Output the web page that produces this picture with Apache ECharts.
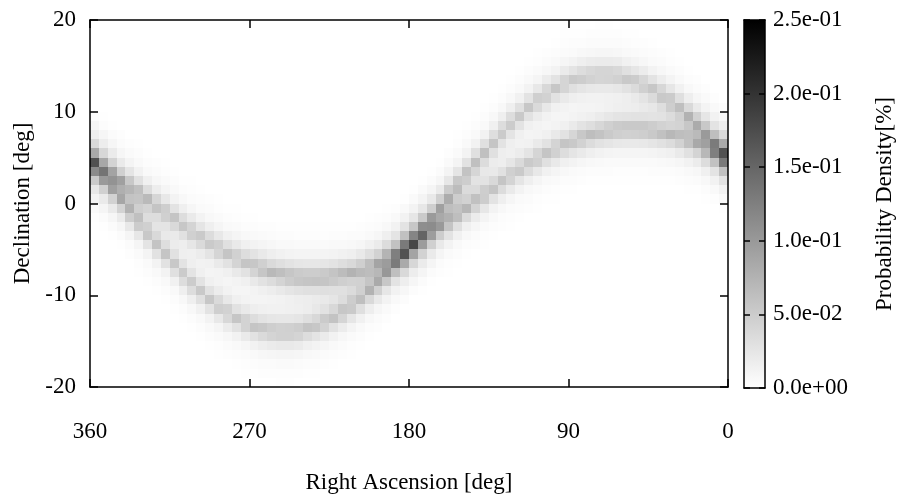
<!DOCTYPE html>
<html><head><meta charset="utf-8">
<script src="https://cdn.jsdelivr.net/npm/echarts@6/dist/echarts.min.js"></script>
<style>html,body{margin:0;padding:0;background:#fff}#c{width:906px;height:499px}</style>
</head><body><div id="c"></div>
<script>
// ---- data ----
const raTickLabels = [360, 270, 180, 90, 0];
const decTickLabels = [-20, -10, 0, 10, 20];
const densityTicks = [0, 0.05, 0.10, 0.15, 0.20, 0.25];
const raBinWidth = 5;     // deg per column
const decBinWidth = 1;    // deg per row
const decRange = [-20, 20];

// ridge (centre declination) of each band per 5-deg RA column, RA 0..360
const bandARidge = [5.4, 6.5, 7.6, 8.6, 9.5, 10.4, 11.1, 11.8, 12.4, 12.9, 13.3, 13.6, 13.9, 14.0, 14.0, 13.9, 13.7, 13.4,
  13.0, 12.5, 11.9, 11.2, 10.5, 9.6, 8.7, 7.7, 6.6, 5.5, 4.4, 3.2, 1.9, 0.7, -0.6, -1.8, -3.0, -4.2,
  -5.4, -6.5, -7.6, -8.6, -9.5, -10.4, -11.1, -11.8, -12.4, -12.9, -13.3, -13.6, -13.9, -14.0, -14.0, -13.9, -13.7, -13.4,
  -13.0, -12.5, -11.9, -11.2, -10.5, -9.6, -8.7, -7.7, -6.6, -5.5, -4.4, -3.2, -1.9, -0.7, 0.6, 1.8, 3.0, 4.2];
const bandBRidge = [5.0, 5.55, 6.05, 6.5, 6.9, 7.25, 7.5, 7.7, 7.9, 8.05, 8.1, 8.1, 8.05, 7.9, 7.7, 7.45, 7.15, 6.8,
  6.4, 5.95, 5.45, 4.9, 4.3, 3.7, 3.05, 2.35, 1.65, 0.95, 0.25, -0.45, -1.15, -1.85, -2.5, -3.15, -3.8, -4.4,
  -5.0, -5.55, -6.05, -6.5, -6.9, -7.25, -7.5, -7.7, -7.9, -8.05, -8.1, -8.1, -8.05, -7.9, -7.7, -7.45, -7.15, -6.8,
  -6.4, -5.95, -5.45, -4.9, -4.3, -3.7, -3.05, -2.35, -1.65, -0.95, -0.25, 0.45, 1.15, 1.85, 2.5, 3.15, 3.8, 4.4];
// peak density [%] of each band per column
const bandAPeak = [0.10, 0.085, 0.075, 0.07, 0.065, 0.06, 0.06, 0.058, 0.056, 0.055, 0.055, 0.055, 0.055, 0.055, 0.055, 0.055, 0.055, 0.055,
  0.055, 0.055, 0.055, 0.055, 0.055, 0.055, 0.055, 0.055, 0.058, 0.06, 0.062, 0.065, 0.07, 0.075, 0.08, 0.085, 0.095, 0.10,
  0.10, 0.085, 0.075, 0.07, 0.065, 0.06, 0.06, 0.06, 0.06, 0.06, 0.06, 0.06, 0.06, 0.06, 0.06, 0.06, 0.06, 0.06,
  0.058, 0.056, 0.055, 0.055, 0.055, 0.055, 0.055, 0.055, 0.055, 0.055, 0.058, 0.06, 0.065, 0.07, 0.075, 0.08, 0.085, 0.095];
const bandBPeak = [0.10, 0.085, 0.075, 0.07, 0.068, 0.065, 0.065, 0.065, 0.065, 0.065, 0.065, 0.065, 0.065, 0.065, 0.065, 0.065, 0.065, 0.062,
  0.06, 0.058, 0.058, 0.058, 0.058, 0.058, 0.058, 0.06, 0.06, 0.062, 0.065, 0.068, 0.07, 0.075, 0.08, 0.085, 0.095, 0.10,
  0.10, 0.085, 0.08, 0.075, 0.072, 0.07, 0.07, 0.07, 0.07, 0.07, 0.07, 0.07, 0.07, 0.07, 0.07, 0.07, 0.068, 0.065,
  0.06, 0.058, 0.058, 0.058, 0.058, 0.058, 0.058, 0.058, 0.06, 0.06, 0.062, 0.065, 0.068, 0.07, 0.075, 0.08, 0.085, 0.095];
// relative density across a band, by distance (rows) from its ridge
const crossProfile = [1, 0.5, 0.22, 0.1, 0.05, 0.02, 0];

// ---- build cells ----
function profileAt(dist) {
  const i = Math.floor(dist);
  if (i >= crossProfile.length - 1) return 0;
  const f = dist - i;
  return crossProfile[i] * (1 - f) + crossProfile[i + 1] * f;
}
const cells = [];
for (let j = 0; j < bandARidge.length; j++) {
  const ra0 = j * raBinWidth, ra1 = ra0 + raBinWidth;
  for (let d = decRange[0]; d < decRange[1]; d += decBinWidth) {
    const dc = d + decBinWidth / 2;
    const v = bandAPeak[j] * profileAt(Math.abs(dc - bandARidge[j])) +
              bandBPeak[j] * profileAt(Math.abs(dc - bandBRidge[j]));
    if (v > 0.0005) cells.push([ra0, ra1, d, d + decBinWidth, +v.toFixed(4)]);
  }
}

function fmtExp(v) {
  if (Math.abs(v) < 1e-12) return '0.0e+00';
  const e = Math.floor(Math.log10(v) + 1e-9);
  const m = v / Math.pow(10, e);
  return m.toFixed(1) + 'e' + (e < 0 ? '-' : '+') + String(Math.abs(e)).padStart(2, '0');
}

const FONT = 'Liberation Serif';
const black = '#000';
const lineS = { color: black, width: 1.5 };
const txt = { color: black, fontFamily: FONT, fontSize: 23 };
const axLine = { onZero: false, lineStyle: lineS };

const chart = echarts.init(document.getElementById('c'), null, { renderer: 'canvas' });
chart.setOption({
  animation: false,
  backgroundColor: '#fff',
  textStyle: { fontFamily: FONT, color: black },
  grid: [
    { left: 90, top: 20, width: 638, height: 368 },
    { left: 744, top: 20, width: 21, height: 368 }
  ],
  visualMap: {
    show: false, type: 'continuous', min: densityTicks[0], max: densityTicks[densityTicks.length - 1],
    dimension: 4, seriesIndex: 0, inRange: { color: ['#ffffff', '#000000'] }
  },
  xAxis: [
    { gridIndex: 0, type: 'value', min: raTickLabels[raTickLabels.length - 1], max: raTickLabels[0], interval: 90, inverse: true,
      position: 'bottom', z: 10,
      axisLine: axLine, axisTick: { inside: true, length: 8, lineStyle: lineS },
      splitLine: { show: false },
      axisLabel: Object.assign({ margin: 33 }, txt),
      name: 'Right Ascension [deg]', nameLocation: 'middle', nameGap: 84, nameTextStyle: txt },
    { gridIndex: 0, type: 'value', min: 0, max: 360, interval: 90, inverse: true, position: 'top', z: 10,
      axisLine: axLine, axisTick: { inside: true, length: 8, lineStyle: lineS },
      splitLine: { show: false }, axisLabel: { show: false } },
    { gridIndex: 1, type: 'value', min: 0, max: 1, position: 'bottom', z: 10,
      axisLine: axLine, axisTick: { show: false }, splitLine: { show: false }, axisLabel: { show: false } },
    { gridIndex: 1, type: 'value', min: 0, max: 1, position: 'top', z: 10,
      axisLine: axLine, axisTick: { show: false }, splitLine: { show: false }, axisLabel: { show: false } }
  ],
  yAxis: [
    { gridIndex: 0, type: 'value', min: decTickLabels[0], max: decTickLabels[decTickLabels.length - 1], interval: 10,
      position: 'left', z: 10,
      axisLine: axLine, axisTick: { inside: true, length: 8, lineStyle: lineS },
      splitLine: { show: false },
      axisLabel: Object.assign({ margin: 14 }, txt),
      name: 'Declination [deg]', nameLocation: 'middle', nameGap: 56, nameRotate: 90, nameTextStyle: txt },
    { gridIndex: 0, type: 'value', min: -20, max: 20, interval: 10, position: 'right', z: 10,
      axisLine: axLine, axisTick: { inside: true, length: 8, lineStyle: lineS },
      splitLine: { show: false }, axisLabel: { show: false } },
    { gridIndex: 1, type: 'value', min: 0, max: 0.25, interval: 0.05, position: 'right', z: 10,
      axisLine: axLine, axisTick: { inside: true, length: 6, lineStyle: lineS },
      splitLine: { show: false },
      axisLabel: Object.assign({ margin: 8, formatter: fmtExp }, txt),
      name: 'Probability Density[%]', nameLocation: 'middle', nameGap: 108, nameRotate: 90, nameTextStyle: txt },
    { gridIndex: 1, type: 'value', min: 0, max: 0.25, interval: 0.05, position: 'left', z: 10,
      axisLine: axLine, axisTick: { inside: true, length: 6, lineStyle: lineS },
      splitLine: { show: false }, axisLabel: { show: false } }
  ],
  series: [
    {
      type: 'custom', xAxisIndex: 0, yAxisIndex: 0, z: 2,
      encode: { x: [0, 1], y: [2, 3] },
      data: cells,
      renderItem: function (params, api) {
        const p0 = api.coord([api.value(0), api.value(3)]);
        const p1 = api.coord([api.value(1), api.value(2)]);
        const x0 = Math.round(Math.min(p0[0], p1[0])), x1 = Math.round(Math.max(p0[0], p1[0]));
        const y0 = Math.round(Math.min(p0[1], p1[1])), y1 = Math.round(Math.max(p0[1], p1[1]));
        return { type: 'rect', shape: { x: x0, y: y0, width: x1 - x0, height: y1 - y0 },
                 style: { fill: api.visual('color') } };
      }
    },
    {
      type: 'custom', xAxisIndex: 2, yAxisIndex: 2, z: 2,
      encode: { x: [0, 2], y: [1, 3] },
      data: [[0, densityTicks[0], 1, densityTicks[densityTicks.length - 1]]],
      renderItem: function (params, api) {
        const p0 = api.coord([api.value(0), api.value(3)]);
        const p1 = api.coord([api.value(2), api.value(1)]);
        return { type: 'rect', shape: { x: p0[0], y: p0[1], width: p1[0] - p0[0], height: p1[1] - p0[1] },
                 style: { fill: new echarts.graphic.LinearGradient(0, 0, 0, 1, [
                   { offset: 0, color: '#000' }, { offset: 1, color: '#fff' }]) } };
      }
    }
  ]
});
</script>
</body></html>
